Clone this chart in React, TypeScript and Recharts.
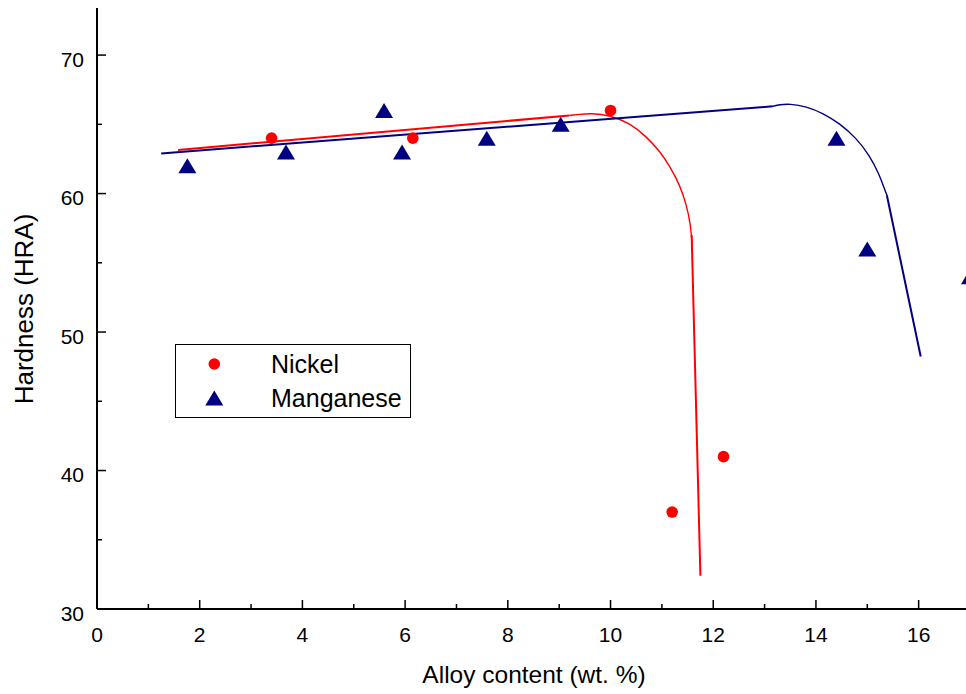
import React from "react";
import { ComposedChart, Line, Scatter, XAxis, YAxis } from "recharts";

// Measured points
const nickelPoints = [
  { x: 3.4, y: 64 },
  { x: 6.15, y: 64 },
  { x: 10.0, y: 66 },
  { x: 11.2, y: 37 },
  { x: 12.2, y: 41 },
];
const manganesePoints = [
  { x: 1.76, y: 62 },
  { x: 3.68, y: 63 },
  { x: 5.59, y: 66 },
  { x: 5.94, y: 63 },
  { x: 7.59, y: 64 },
  { x: 9.03, y: 65 },
  { x: 14.4, y: 64 },
  { x: 15.0, y: 56 },
  { x: 17.0, y: 54 },
];

// Hand-drawn trend lines
const nickelFit = [
  { x: 1.58, y: 63.15 },
  { x: 9.2, y: 65.64 },
];
const nickelBend = [
  { x: 9.2, y: 65.64 },
  { x: 9.4, y: 65.72 },
  { x: 9.6, y: 65.8 },
  { x: 9.99, y: 65.66 },
  { x: 10.38, y: 65.07 },
  { x: 10.7, y: 64.11 },
  { x: 10.96, y: 63.05 },
  { x: 11.15, y: 62.0 },
  { x: 11.35, y: 60.62 },
  { x: 11.48, y: 59.18 },
  { x: 11.56, y: 57.74 },
  { x: 11.59, y: 56.3 },
];
const nickelDrop = [
  { x: 11.58, y: 57.0 },
  { x: 11.75, y: 32.4 },
];
const manganeseFit = [
  { x: 1.25, y: 62.9 },
  { x: 13.16, y: 66.3 },
];
const manganeseBend = [
  { x: 13.16, y: 66.3 },
  { x: 13.29, y: 66.42 },
  { x: 13.49, y: 66.48 },
  { x: 13.81, y: 66.3 },
  { x: 14.14, y: 65.8 },
  { x: 14.46, y: 65.07 },
  { x: 14.79, y: 63.99 },
  { x: 15.04, y: 62.78 },
  { x: 15.24, y: 61.34 },
  { x: 15.34, y: 60.26 },
  { x: 15.38, y: 59.9 },
];
const manganeseDrop = [
  { x: 15.38, y: 59.9 },
  { x: 16.04, y: 48.23 },
];

const xTicks = [0, 1, 2, 3, 4, 5, 6, 7, 8, 9, 10, 11, 12, 13, 14, 15, 16, 17];
const yTicks = [30, 35, 40, 45, 50, 55, 60, 65, 70];

const RED = "#FF0000";
const NAVY = "#000080";
const FONT = "'Liberation Sans', Arial, sans-serif";

const XTick = (props: any) => {
  const { x, y, payload } = props;
  const major = payload.value % 2 === 0;
  return (
    <g>
      <line x1={x} x2={x} y1={y} y2={y - (major ? 9 : 5)} stroke="#000" strokeWidth={1.5} />
      {major && (
        <text x={x} y={y + 33} textAnchor="middle" fontSize={21} fontFamily={FONT} fill="#000">
          {payload.value}
        </text>
      )}
    </g>
  );
};

const YTick = (props: any) => {
  const { x, y, payload } = props;
  const major = payload.value % 10 === 0;
  return (
    <g>
      <line x1={x} x2={x + (major ? 9 : 5)} y1={y} y2={y} stroke="#000" strokeWidth={1.5} />
      {major && (
        <text x={x - 13} y={y + 11.8} textAnchor="end" fontSize={21} fontFamily={FONT} fill="#000">
          {payload.value}
        </text>
      )}
    </g>
  );
};

const Circle = (props: any) => <circle cx={props.cx} cy={props.cy} r={5.8} fill={RED} />;
const Triangle = (props: any) => {
  const { cx, cy } = props;
  return <polygon points={`${cx},${cy - 7.5} ${cx - 9},${cy + 7.5} ${cx + 9},${cy + 7.5}`} fill={NAVY} />;
};

const LegendBox = () => (
  <div
    style={{
      position: "absolute",
      left: 175,
      top: 344,
      width: 236,
      height: 74,
      border: "1.5px solid #000",
      boxSizing: "border-box",
      background: "#fff",
      fontFamily: FONT,
    }}
  >
    <svg width={236} height={74} style={{ position: "absolute", left: -1.5, top: -1.5 }}>
      <circle cx={39.3} cy={20} r={5.8} fill={RED} />
      <polygon points="39.3,46.5 30.3,61.5 48.3,61.5" fill={NAVY} />
      <text x={96} y={29.3} fontSize={25} fontFamily={FONT} fill="#000">Nickel</text>
      <text x={96} y={62.7} fontSize={25} fontFamily={FONT} fill="#000">Manganese</text>
    </svg>
  </div>
);

export default function App() {
  return (
    <div
      style={{
        position: "fixed",
        left: 0,
        top: 0,
        width: 966,
        height: 694,
        overflow: "hidden",
        background: "#fff",
      }}
    >
      <div style={{ position: "absolute", left: 8, top: 8 }}>
        <ComposedChart width={975} height={686} margin={{ top: 0, right: 13, bottom: 0, left: 0 }}>
          <XAxis
            type="number"
            dataKey="x"
            domain={[0, 17]}
            ticks={xTicks}
            interval={0}
            height={85}
            tickSize={0}
            tickMargin={0}
            tick={<XTick />}
            axisLine={{ stroke: "#000", strokeWidth: 2 }}
            tickLine={false}
            label={{
              content: () => (
                <text x={526} y={675} textAnchor="middle" fontSize={24.5} fontFamily={FONT} fill="#000">
                  Alloy content (wt. %)
                </text>
              ),
            }}
          />
          <YAxis
            type="number"
            dataKey="y"
            domain={[30, 73.4]}
            ticks={yTicks}
            interval={0}
            width={89}
            tickSize={0}
            tickMargin={0}
            tick={<YTick />}
            axisLine={{ stroke: "#000", strokeWidth: 2 }}
            tickLine={false}
            allowDataOverflow
            label={{
              content: () => (
                <text
                  x={16}
                  y={301}
                  textAnchor="middle"
                  dominantBaseline="central"
                  fontSize={26}
                  fontFamily={FONT}
                  fill="#000"
                  transform="rotate(-90, 16, 301)"
                >
                  Hardness (HRA)
                </text>
              ),
            }}
          />
          <Line data={nickelFit} dataKey="y" type="linear" stroke={RED} strokeWidth={2} dot={false} isAnimationActive={false} />
          <Line data={nickelBend} dataKey="y" type="basis" stroke={RED} strokeWidth={1.4} dot={false} isAnimationActive={false} />
          <Line data={nickelDrop} dataKey="y" type="linear" stroke={RED} strokeWidth={2} dot={false} isAnimationActive={false} />
          <Line data={manganeseFit} dataKey="y" type="linear" stroke={NAVY} strokeWidth={2} dot={false} isAnimationActive={false} />
          <Line data={manganeseBend} dataKey="y" type="basis" stroke={NAVY} strokeWidth={1.4} dot={false} isAnimationActive={false} />
          <Line data={manganeseDrop} dataKey="y" type="linear" stroke={NAVY} strokeWidth={2} dot={false} isAnimationActive={false} />
          <Scatter data={nickelPoints} dataKey="y" shape={<Circle />} isAnimationActive={false} />
          <Scatter data={manganesePoints} dataKey="y" shape={<Triangle />} isAnimationActive={false} />
        </ComposedChart>
      </div>
      <LegendBox />
    </div>
  );
}
